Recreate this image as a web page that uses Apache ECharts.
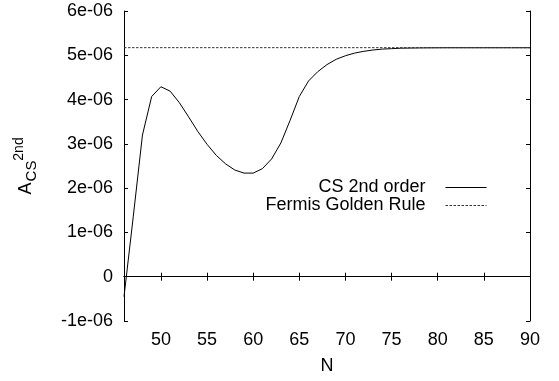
<!DOCTYPE html>
<html>
<head>
<meta charset="utf-8">
<script src="https://cdn.jsdelivr.net/npm/echarts@6/dist/echarts.min.js"></script>
<style>
  html, body { margin: 0; padding: 0; background: #fff; }
  #chart { width: 559px; height: 381px; }
</style>
</head>
<body>
<div id="chart"></div>
<script>
// N values (x axis)
var nValues = [46, 47, 48, 49, 50, 51, 52, 53, 54, 55, 56, 57, 58, 59, 60, 61, 62, 63, 64, 65, 66, 67,
  68, 69, 70, 71, 72, 73, 74, 75, 76, 77, 78, 79, 80, 81, 82, 83, 84, 85, 86, 87, 88, 89, 90];
// A_CS 2nd order, in units of 1e-06
var csValues = [-0.45, 1.35, 3.20, 4.07, 4.29, 4.19, 3.93, 3.61, 3.28, 2.99, 2.74, 2.55, 2.41, 2.34, 2.34,
  2.44, 2.66, 3.02, 3.53, 4.07, 4.42, 4.63, 4.79, 4.91, 4.99, 5.05, 5.09, 5.12, 5.14, 5.15, 5.16, 5.163,
  5.166, 5.168, 5.169, 5.17, 5.17, 5.17, 5.17, 5.17, 5.17, 5.17, 5.17, 5.17, 5.17];
// Fermi golden rule (constant), in units of 1e-06
var fermiN = [46, 90];
var fermiValues = [5.172, 5.172];

var xTicks = [50, 55, 60, 65, 70, 75, 80, 85, 90];
var yTickValues = [-1, 0, 1, 2, 3, 4, 5, 6];
var yTickLabels = ["-1e-06", "0", "1e-06", "2e-06", "3e-06", "4e-06", "5e-06", "6e-06"];

var FONT = "Liberation Sans";

var myChart = echarts.init(document.getElementById("chart"));

function yLabel(v) {
  var i = yTickValues.indexOf(Math.round(v));
  return i >= 0 ? yTickLabels[i] : "";
}

var axisLine = { show: true, lineStyle: { color: "#000", width: 1 } };
var axisTick = { show: true, inside: true, length: 4, lineStyle: { color: "#000", width: 1 } };

var legendBase = {
  right: 72,
  align: "right",
  orient: "horizontal",
  itemWidth: 41,
  itemHeight: 14,
  padding: 0,
  selectedMode: false,
  itemStyle: { opacity: 0 },
  lineStyle: { width: 1 },
  textStyle: { fontFamily: FONT, fontSize: 18, color: "#000", padding: [0, 15, 0, 0] }
};

var option = {
  animation: false,
  backgroundColor: "#fff",
  grid: { left: 124, right: 29, top: 11, bottom: 60, containLabel: false },
  legend: [
    Object.assign({}, legendBase, { data: ["CS 2nd order"], top: 178.5 }),
    Object.assign({}, legendBase, { data: ["Fermis Golden Rule"], top: 196.5 })
  ],
  xAxis: [
    {
      type: "value",
      min: 46,
      max: 90,
      position: "bottom",
      name: "N",
      nameLocation: "middle",
      nameGap: 36,
      nameTextStyle: { fontFamily: FONT, fontSize: 18, color: "#000" },
      axisLine: axisLine,
      axisTick: Object.assign({}, axisTick, { customValues: xTicks }),
      axisLabel: { customValues: xTicks, margin: 10, fontFamily: FONT, fontSize: 18, color: "#000" },
      splitLine: { show: false }
    },
    {
      type: "value",
      min: 46,
      max: 90,
      position: "top",
      axisLine: axisLine,
      axisTick: Object.assign({}, axisTick, { customValues: xTicks }),
      axisLabel: { show: false },
      splitLine: { show: false }
    }
  ],
  yAxis: [
    {
      type: "value",
      min: -1,
      max: 6,
      interval: 1,
      position: "left",
      axisLine: axisLine,
      axisTick: axisTick,
      axisLabel: { margin: 11, fontFamily: FONT, fontSize: 18, color: "#000", formatter: yLabel },
      splitLine: { show: false }
    },
    {
      type: "value",
      min: -1,
      max: 6,
      interval: 1,
      position: "right",
      axisLine: axisLine,
      axisTick: axisTick,
      axisLabel: { show: false },
      splitLine: { show: false }
    }
  ],
  graphic: [
    { type: "text", x: 26.5, y: 188.5, rotation: Math.PI / 2,
      style: { text: "A", font: "18px " + FONT, fill: "#000", textAlign: "center", textVerticalAlign: "middle" } },
    { type: "text", x: 31.5, y: 171, rotation: Math.PI / 2,
      style: { text: "CS", font: "15px " + FONT, fill: "#000", textAlign: "center", textVerticalAlign: "middle" } },
    { type: "text", x: 19, y: 149, rotation: Math.PI / 2,
      style: { text: "2nd", font: "14px " + FONT, fill: "#000", textAlign: "center", textVerticalAlign: "middle" } }
  ],
  series: [
    {
      name: "CS 2nd order",
      type: "line",
      symbol: "none",
      data: nValues.map(function (n, i) { return [n, csValues[i]]; }),
      lineStyle: { color: "#000", width: 1 },
      itemStyle: { color: "#000" }
    },
    {
      name: "Fermis Golden Rule",
      type: "line",
      symbol: "none",
      data: fermiN.map(function (n, i) { return [n, fermiValues[i]]; }),
      lineStyle: { color: "#333", width: 1, type: [2.5, 1.5] },
      itemStyle: { color: "#333" }
    }
  ]
};

myChart.setOption(option);
</script>
</body>
</html>
